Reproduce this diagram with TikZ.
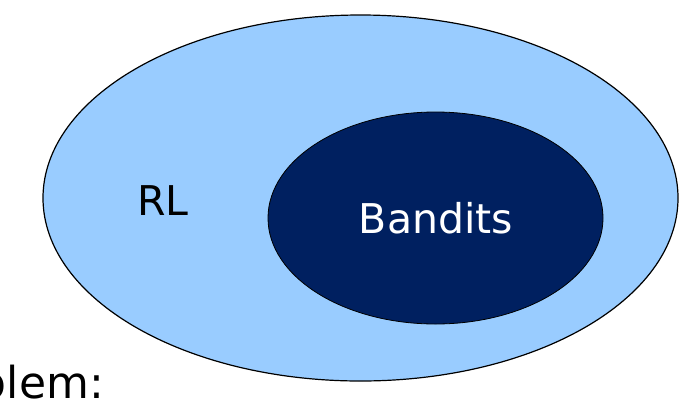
\documentclass[tikz,border=0pt]{standalone}
\usepackage{fontspec}
\setmainfont{DejaVu Sans}
\usetikzlibrary{shapes.geometric}
\definecolor{rlblue}{RGB}{153,204,255}
\definecolor{banditnavy}{RGB}{0,32,96}

\begin{document}
\begin{tikzpicture}[x=1pt,y=-1pt,
      set/.style={ellipse,draw=black,inner sep=0pt},
      setlabel/.style={inner sep=0pt,anchor=base,font=\fontsize{41}{49}\selectfont}]
    \useasboundingbox (0,0) rectangle (679,405);
    \clip (0,0) rectangle (679,405);

    % ---- outer set: RL ------------------------------------------------
    \node[set,fill=rlblue,line width=1.2pt,minimum width=635pt,minimum height=366pt]
          (rl) at (360.5,198) {};
    \node[setlabel] (rllabel) at (163,215) {RL};

    % ---- inner set: Bandits -------------------------------------------
    \node[set,fill=banditnavy,line width=0.8pt,minimum width=335pt,minimum height=212pt]
          (bandits) at (435.5,218) {};
    \node[setlabel,text=white] (banditslabel) at (436,233) {Bandits};

    % ---- text cut off at the left edge --------------------------------
    \node[setlabel,anchor=base east,font=\fontsize{44}{52}\selectfont]
          (problem) at (104,398) {Problem:};
  \end{tikzpicture}
\end{document}
